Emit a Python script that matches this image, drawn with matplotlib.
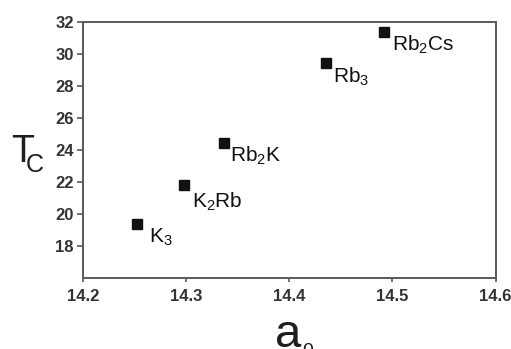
#Scatter of Tc against lattice parameter a0 for the fulleride series
import matplotlib.pyplot as plt
import numpy as np

##########################################
#Data
compounds = [r'K$_3$', r'K$_2$Rb', r'Rb$_2$K', r'Rb$_3$', r'Rb$_2$Cs']
a0 = [14.252, 14.298, 14.337, 14.436, 14.492]
Tc = [19.35, 21.8, 24.4, 29.45, 31.35]

x_ticks = [14.2, 14.3, 14.4, 14.5, 14.6]
y_ticks = [18, 20, 22, 24, 26, 28, 30, 32]

#label offsets in points (x, y), text hangs below-right of the marker
label_offsets = [(9, -2), (6, -4), (4, -1), (5, -2), (5.5, -1)]

##########################################
#Style
plt.rcParams['font.family'] = ['Liberation Sans', 'DejaVu Sans']
plt.rcParams['mathtext.fontset'] = 'custom'
plt.rcParams['mathtext.rm'] = 'Liberation Sans'
plt.rcParams['mathtext.it'] = 'Liberation Sans:italic'
plt.rcParams['mathtext.bf'] = 'Liberation Sans:bold'

spine_color = '#5a5a5a'
text_color = '#1e1e1e'

fig = plt.figure(figsize=(5.11, 3.49), dpi=100)
ax = fig.add_axes([0.1624, 0.2043, 0.9700 - 0.1624, 0.937 - 0.2043])

ax.plot(a0, Tc, linestyle='none', marker='s', markersize=6.5, color='#111111')

for name, x, y, off in zip(compounds, a0, Tc, label_offsets):
	ax.annotate(name, (x, y), xytext=off, textcoords='offset points',
		ha='left', va='top', fontsize=15, color='#111111')

ax.set_xlim(14.2, 14.6)
ax.set_ylim(16, 32)
ax.set_xticks(x_ticks)
ax.set_xticklabels(['%.1f' % v for v in x_ticks])
ax.set_yticks(y_ticks)

for side in ['left', 'bottom', 'top', 'right']:
	ax.spines[side].set_color(spine_color)
	ax.spines[side].set_linewidth(1.4)

ax.tick_params(axis='y', direction='out', length=4.5, width=1.2, color=spine_color, pad=2,
	labelsize=12, labelcolor='#333333')
ax.tick_params(axis='x', direction='out', length=3, width=1.2, color=spine_color, pad=5,
	labelsize=12, labelcolor='#333333')
for lab in ax.get_xticklabels() + ax.get_yticklabels():
	lab.set_fontweight('bold')

#Axis titles (main letter and subscript placed separately, as in the original)
fig.text(11 / 511, 1 - 161.5 / 349, 'T', fontsize=27, color=text_color, va='baseline', ha='left')
fig.text(26 / 511, 1 - 171.5 / 349, 'C', fontsize=18, color=text_color, va='baseline', ha='left')
fig.text(275 / 511, 1 - 347 / 349, 'a', fontsize=34, color=text_color, va='baseline', ha='left')
fig.text(302 / 511, 1 - 356 / 349, '0', fontsize=14, color=text_color, va='baseline', ha='left')

plt.savefig('out.png', dpi=100)
